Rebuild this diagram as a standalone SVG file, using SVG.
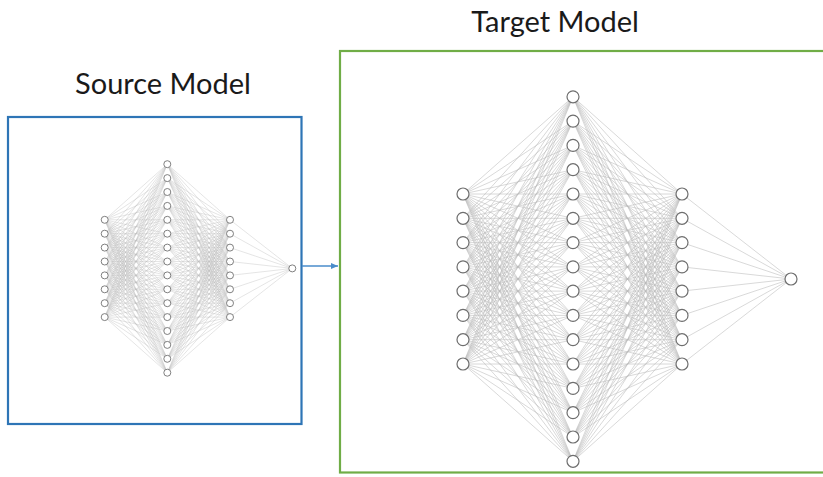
<svg xmlns="http://www.w3.org/2000/svg" width="823" height="477" viewBox="0 0 823 477">
<style>
.title{font-family:Lato,"Liberation Sans",sans-serif;font-size:29px;fill:#1a1a1a;text-anchor:middle}
.e{fill:none;stroke:#b9b9b9;stroke-width:0.55}
.es{fill:none;stroke:#bdbdbd;stroke-width:0.4}
.n{fill:#fff;stroke:#6e6e6e;stroke-width:1.2}
.ns{fill:#fff;stroke:#727272;stroke-width:0.9}
</style>
<defs>
<marker id="arr" viewBox="0 0 10 10" refX="10" refY="5" markerWidth="7" markerHeight="6" orient="auto" markerUnits="userSpaceOnUse" preserveAspectRatio="none">
<path d="M0 0L10 5L0 10z" fill="#4a8ccb"/>
</marker>
</defs>
<rect width="823" height="477" fill="#fff"/>
<g id="source-box">
<rect x="8" y="117" width="293.5" height="307" fill="none" stroke="#2e75b6" stroke-width="2.2"/>
<text class="title" x="163" y="94">Source Model</text>
</g>
<g id="target-box">
<rect x="340" y="51" width="500" height="421.5" fill="none" stroke="#70ad47" stroke-width="2.2"/>
<text class="title" x="555" y="32">Target Model</text>
</g>
<g id="connectors">
<!-- source network edges -->
<path class="es" d="M104.7 219.8L167.3 164.2L230 219.8M104.7 233.7L167.3 164.2L230 233.7M104.7 247.6L167.3 164.2L230 247.6M104.7 261.5L167.3 164.2L230 261.5M104.7 275.4L167.3 164.2L230 275.4M104.7 289.3L167.3 164.2L230 289.3M104.7 303.2L167.3 164.2L230 303.2M104.7 317.1L167.3 164.2L230 317.1"/>
<path class="es" d="M104.7 219.8L167.3 178.1L230 219.8M104.7 233.7L167.3 178.1L230 233.7M104.7 247.6L167.3 178.1L230 247.6M104.7 261.5L167.3 178.1L230 261.5M104.7 275.4L167.3 178.1L230 275.4M104.7 289.3L167.3 178.1L230 289.3M104.7 303.2L167.3 178.1L230 303.2M104.7 317.1L167.3 178.1L230 317.1"/>
<path class="es" d="M104.7 219.8L167.3 192L230 219.8M104.7 233.7L167.3 192L230 233.7M104.7 247.6L167.3 192L230 247.6M104.7 261.5L167.3 192L230 261.5M104.7 275.4L167.3 192L230 275.4M104.7 289.3L167.3 192L230 289.3M104.7 303.2L167.3 192L230 303.2M104.7 317.1L167.3 192L230 317.1"/>
<path class="es" d="M104.7 219.8L167.3 205.9L230 219.8M104.7 233.7L167.3 205.9L230 233.7M104.7 247.6L167.3 205.9L230 247.6M104.7 261.5L167.3 205.9L230 261.5M104.7 275.4L167.3 205.9L230 275.4M104.7 289.3L167.3 205.9L230 289.3M104.7 303.2L167.3 205.9L230 303.2M104.7 317.1L167.3 205.9L230 317.1"/>
<path class="es" d="M104.7 219.8L167.3 219.8L230 219.8M104.7 233.7L167.3 219.8L230 233.7M104.7 247.6L167.3 219.8L230 247.6M104.7 261.5L167.3 219.8L230 261.5M104.7 275.4L167.3 219.8L230 275.4M104.7 289.3L167.3 219.8L230 289.3M104.7 303.2L167.3 219.8L230 303.2M104.7 317.1L167.3 219.8L230 317.1"/>
<path class="es" d="M104.7 219.8L167.3 233.7L230 219.8M104.7 233.7L167.3 233.7L230 233.7M104.7 247.6L167.3 233.7L230 247.6M104.7 261.5L167.3 233.7L230 261.5M104.7 275.4L167.3 233.7L230 275.4M104.7 289.3L167.3 233.7L230 289.3M104.7 303.2L167.3 233.7L230 303.2M104.7 317.1L167.3 233.7L230 317.1"/>
<path class="es" d="M104.7 219.8L167.3 247.6L230 219.8M104.7 233.7L167.3 247.6L230 233.7M104.7 247.6L167.3 247.6L230 247.6M104.7 261.5L167.3 247.6L230 261.5M104.7 275.4L167.3 247.6L230 275.4M104.7 289.3L167.3 247.6L230 289.3M104.7 303.2L167.3 247.6L230 303.2M104.7 317.1L167.3 247.6L230 317.1"/>
<path class="es" d="M104.7 219.8L167.3 261.5L230 219.8M104.7 233.7L167.3 261.5L230 233.7M104.7 247.6L167.3 261.5L230 247.6M104.7 261.5L167.3 261.5L230 261.5M104.7 275.4L167.3 261.5L230 275.4M104.7 289.3L167.3 261.5L230 289.3M104.7 303.2L167.3 261.5L230 303.2M104.7 317.1L167.3 261.5L230 317.1"/>
<path class="es" d="M104.7 219.8L167.3 275.4L230 219.8M104.7 233.7L167.3 275.4L230 233.7M104.7 247.6L167.3 275.4L230 247.6M104.7 261.5L167.3 275.4L230 261.5M104.7 275.4L167.3 275.4L230 275.4M104.7 289.3L167.3 275.4L230 289.3M104.7 303.2L167.3 275.4L230 303.2M104.7 317.1L167.3 275.4L230 317.1"/>
<path class="es" d="M104.7 219.8L167.3 289.3L230 219.8M104.7 233.7L167.3 289.3L230 233.7M104.7 247.6L167.3 289.3L230 247.6M104.7 261.5L167.3 289.3L230 261.5M104.7 275.4L167.3 289.3L230 275.4M104.7 289.3L167.3 289.3L230 289.3M104.7 303.2L167.3 289.3L230 303.2M104.7 317.1L167.3 289.3L230 317.1"/>
<path class="es" d="M104.7 219.8L167.3 303.2L230 219.8M104.7 233.7L167.3 303.2L230 233.7M104.7 247.6L167.3 303.2L230 247.6M104.7 261.5L167.3 303.2L230 261.5M104.7 275.4L167.3 303.2L230 275.4M104.7 289.3L167.3 303.2L230 289.3M104.7 303.2L167.3 303.2L230 303.2M104.7 317.1L167.3 303.2L230 317.1"/>
<path class="es" d="M104.7 219.8L167.3 317.1L230 219.8M104.7 233.7L167.3 317.1L230 233.7M104.7 247.6L167.3 317.1L230 247.6M104.7 261.5L167.3 317.1L230 261.5M104.7 275.4L167.3 317.1L230 275.4M104.7 289.3L167.3 317.1L230 289.3M104.7 303.2L167.3 317.1L230 303.2M104.7 317.1L167.3 317.1L230 317.1"/>
<path class="es" d="M104.7 219.8L167.3 331L230 219.8M104.7 233.7L167.3 331L230 233.7M104.7 247.6L167.3 331L230 247.6M104.7 261.5L167.3 331L230 261.5M104.7 275.4L167.3 331L230 275.4M104.7 289.3L167.3 331L230 289.3M104.7 303.2L167.3 331L230 303.2M104.7 317.1L167.3 331L230 317.1"/>
<path class="es" d="M104.7 219.8L167.3 344.9L230 219.8M104.7 233.7L167.3 344.9L230 233.7M104.7 247.6L167.3 344.9L230 247.6M104.7 261.5L167.3 344.9L230 261.5M104.7 275.4L167.3 344.9L230 275.4M104.7 289.3L167.3 344.9L230 289.3M104.7 303.2L167.3 344.9L230 303.2M104.7 317.1L167.3 344.9L230 317.1"/>
<path class="es" d="M104.7 219.8L167.3 358.8L230 219.8M104.7 233.7L167.3 358.8L230 233.7M104.7 247.6L167.3 358.8L230 247.6M104.7 261.5L167.3 358.8L230 261.5M104.7 275.4L167.3 358.8L230 275.4M104.7 289.3L167.3 358.8L230 289.3M104.7 303.2L167.3 358.8L230 303.2M104.7 317.1L167.3 358.8L230 317.1"/>
<path class="es" d="M104.7 219.8L167.3 372.7L230 219.8M104.7 233.7L167.3 372.7L230 233.7M104.7 247.6L167.3 372.7L230 247.6M104.7 261.5L167.3 372.7L230 261.5M104.7 275.4L167.3 372.7L230 275.4M104.7 289.3L167.3 372.7L230 289.3M104.7 303.2L167.3 372.7L230 303.2M104.7 317.1L167.3 372.7L230 317.1"/>
<path class="es" d="M230 219.8L292.3 268.4M230 233.7L292.3 268.4M230 247.6L292.3 268.4M230 261.5L292.3 268.4M230 275.4L292.3 268.4M230 289.3L292.3 268.4M230 303.2L292.3 268.4M230 317.1L292.3 268.4"/>
<!-- target network edges -->
<path class="e" d="M463 194L573 96.8L682 194M463 218.3L573 96.8L682 218.3M463 242.6L573 96.8L682 242.6M463 266.9L573 96.8L682 266.9M463 291.1L573 96.8L682 291.1M463 315.4L573 96.8L682 315.4M463 339.7L573 96.8L682 339.7M463 364L573 96.8L682 364"/>
<path class="e" d="M463 194L573 121.1L682 194M463 218.3L573 121.1L682 218.3M463 242.6L573 121.1L682 242.6M463 266.9L573 121.1L682 266.9M463 291.1L573 121.1L682 291.1M463 315.4L573 121.1L682 315.4M463 339.7L573 121.1L682 339.7M463 364L573 121.1L682 364"/>
<path class="e" d="M463 194L573 145.4L682 194M463 218.3L573 145.4L682 218.3M463 242.6L573 145.4L682 242.6M463 266.9L573 145.4L682 266.9M463 291.1L573 145.4L682 291.1M463 315.4L573 145.4L682 315.4M463 339.7L573 145.4L682 339.7M463 364L573 145.4L682 364"/>
<path class="e" d="M463 194L573 169.7L682 194M463 218.3L573 169.7L682 218.3M463 242.6L573 169.7L682 242.6M463 266.9L573 169.7L682 266.9M463 291.1L573 169.7L682 291.1M463 315.4L573 169.7L682 315.4M463 339.7L573 169.7L682 339.7M463 364L573 169.7L682 364"/>
<path class="e" d="M463 194L573 194L682 194M463 218.3L573 194L682 218.3M463 242.6L573 194L682 242.6M463 266.9L573 194L682 266.9M463 291.1L573 194L682 291.1M463 315.4L573 194L682 315.4M463 339.7L573 194L682 339.7M463 364L573 194L682 364"/>
<path class="e" d="M463 194L573 218.3L682 194M463 218.3L573 218.3L682 218.3M463 242.6L573 218.3L682 242.6M463 266.9L573 218.3L682 266.9M463 291.1L573 218.3L682 291.1M463 315.4L573 218.3L682 315.4M463 339.7L573 218.3L682 339.7M463 364L573 218.3L682 364"/>
<path class="e" d="M463 194L573 242.6L682 194M463 218.3L573 242.6L682 218.3M463 242.6L573 242.6L682 242.6M463 266.9L573 242.6L682 266.9M463 291.1L573 242.6L682 291.1M463 315.4L573 242.6L682 315.4M463 339.7L573 242.6L682 339.7M463 364L573 242.6L682 364"/>
<path class="e" d="M463 194L573 266.9L682 194M463 218.3L573 266.9L682 218.3M463 242.6L573 266.9L682 242.6M463 266.9L573 266.9L682 266.9M463 291.1L573 266.9L682 291.1M463 315.4L573 266.9L682 315.4M463 339.7L573 266.9L682 339.7M463 364L573 266.9L682 364"/>
<path class="e" d="M463 194L573 291.1L682 194M463 218.3L573 291.1L682 218.3M463 242.6L573 291.1L682 242.6M463 266.9L573 291.1L682 266.9M463 291.1L573 291.1L682 291.1M463 315.4L573 291.1L682 315.4M463 339.7L573 291.1L682 339.7M463 364L573 291.1L682 364"/>
<path class="e" d="M463 194L573 315.4L682 194M463 218.3L573 315.4L682 218.3M463 242.6L573 315.4L682 242.6M463 266.9L573 315.4L682 266.9M463 291.1L573 315.4L682 291.1M463 315.4L573 315.4L682 315.4M463 339.7L573 315.4L682 339.7M463 364L573 315.4L682 364"/>
<path class="e" d="M463 194L573 339.7L682 194M463 218.3L573 339.7L682 218.3M463 242.6L573 339.7L682 242.6M463 266.9L573 339.7L682 266.9M463 291.1L573 339.7L682 291.1M463 315.4L573 339.7L682 315.4M463 339.7L573 339.7L682 339.7M463 364L573 339.7L682 364"/>
<path class="e" d="M463 194L573 364L682 194M463 218.3L573 364L682 218.3M463 242.6L573 364L682 242.6M463 266.9L573 364L682 266.9M463 291.1L573 364L682 291.1M463 315.4L573 364L682 315.4M463 339.7L573 364L682 339.7M463 364L573 364L682 364"/>
<path class="e" d="M463 194L573 388.4L682 194M463 218.3L573 388.4L682 218.3M463 242.6L573 388.4L682 242.6M463 266.9L573 388.4L682 266.9M463 291.1L573 388.4L682 291.1M463 315.4L573 388.4L682 315.4M463 339.7L573 388.4L682 339.7M463 364L573 388.4L682 364"/>
<path class="e" d="M463 194L573 412.7L682 194M463 218.3L573 412.7L682 218.3M463 242.6L573 412.7L682 242.6M463 266.9L573 412.7L682 266.9M463 291.1L573 412.7L682 291.1M463 315.4L573 412.7L682 315.4M463 339.7L573 412.7L682 339.7M463 364L573 412.7L682 364"/>
<path class="e" d="M463 194L573 437L682 194M463 218.3L573 437L682 218.3M463 242.6L573 437L682 242.6M463 266.9L573 437L682 266.9M463 291.1L573 437L682 291.1M463 315.4L573 437L682 315.4M463 339.7L573 437L682 339.7M463 364L573 437L682 364"/>
<path class="e" d="M463 194L573 461.3L682 194M463 218.3L573 461.3L682 218.3M463 242.6L573 461.3L682 242.6M463 266.9L573 461.3L682 266.9M463 291.1L573 461.3L682 291.1M463 315.4L573 461.3L682 315.4M463 339.7L573 461.3L682 339.7M463 364L573 461.3L682 364"/>
<path class="e" d="M682 194L791 279M682 218.3L791 279M682 242.6L791 279M682 266.9L791 279M682 291.1L791 279M682 315.4L791 279M682 339.7L791 279M682 364L791 279"/>
<!-- transfer arrow -->
<line x1="302" y1="266" x2="338" y2="266" stroke="#4a8ccb" stroke-width="1.5" marker-end="url(#arr)"/>
</g>
<g id="source-nodes">
<g id="s-in-0"><circle class="ns" cx="104.7" cy="219.8" r="3.5"/></g>
<g id="s-in-1"><circle class="ns" cx="104.7" cy="233.7" r="3.5"/></g>
<g id="s-in-2"><circle class="ns" cx="104.7" cy="247.6" r="3.5"/></g>
<g id="s-in-3"><circle class="ns" cx="104.7" cy="261.5" r="3.5"/></g>
<g id="s-in-4"><circle class="ns" cx="104.7" cy="275.4" r="3.5"/></g>
<g id="s-in-5"><circle class="ns" cx="104.7" cy="289.3" r="3.5"/></g>
<g id="s-in-6"><circle class="ns" cx="104.7" cy="303.2" r="3.5"/></g>
<g id="s-in-7"><circle class="ns" cx="104.7" cy="317.1" r="3.5"/></g>
<g id="s-h-0"><circle class="ns" cx="167.3" cy="164.2" r="3.5"/></g>
<g id="s-h-1"><circle class="ns" cx="167.3" cy="178.1" r="3.5"/></g>
<g id="s-h-2"><circle class="ns" cx="167.3" cy="192" r="3.5"/></g>
<g id="s-h-3"><circle class="ns" cx="167.3" cy="205.9" r="3.5"/></g>
<g id="s-h-4"><circle class="ns" cx="167.3" cy="219.8" r="3.5"/></g>
<g id="s-h-5"><circle class="ns" cx="167.3" cy="233.7" r="3.5"/></g>
<g id="s-h-6"><circle class="ns" cx="167.3" cy="247.6" r="3.5"/></g>
<g id="s-h-7"><circle class="ns" cx="167.3" cy="261.5" r="3.5"/></g>
<g id="s-h-8"><circle class="ns" cx="167.3" cy="275.4" r="3.5"/></g>
<g id="s-h-9"><circle class="ns" cx="167.3" cy="289.3" r="3.5"/></g>
<g id="s-h-10"><circle class="ns" cx="167.3" cy="303.2" r="3.5"/></g>
<g id="s-h-11"><circle class="ns" cx="167.3" cy="317.1" r="3.5"/></g>
<g id="s-h-12"><circle class="ns" cx="167.3" cy="331" r="3.5"/></g>
<g id="s-h-13"><circle class="ns" cx="167.3" cy="344.9" r="3.5"/></g>
<g id="s-h-14"><circle class="ns" cx="167.3" cy="358.8" r="3.5"/></g>
<g id="s-h-15"><circle class="ns" cx="167.3" cy="372.7" r="3.5"/></g>
<g id="s-h2-0"><circle class="ns" cx="230" cy="219.8" r="3.5"/></g>
<g id="s-h2-1"><circle class="ns" cx="230" cy="233.7" r="3.5"/></g>
<g id="s-h2-2"><circle class="ns" cx="230" cy="247.6" r="3.5"/></g>
<g id="s-h2-3"><circle class="ns" cx="230" cy="261.5" r="3.5"/></g>
<g id="s-h2-4"><circle class="ns" cx="230" cy="275.4" r="3.5"/></g>
<g id="s-h2-5"><circle class="ns" cx="230" cy="289.3" r="3.5"/></g>
<g id="s-h2-6"><circle class="ns" cx="230" cy="303.2" r="3.5"/></g>
<g id="s-h2-7"><circle class="ns" cx="230" cy="317.1" r="3.5"/></g>
<g id="s-out"><circle class="ns" cx="292.3" cy="268.4" r="3.5"/></g>
</g>
<g id="target-nodes">
<g id="t-in-0"><circle class="n" cx="463" cy="194" r="6"/></g>
<g id="t-in-1"><circle class="n" cx="463" cy="218.3" r="6"/></g>
<g id="t-in-2"><circle class="n" cx="463" cy="242.6" r="6"/></g>
<g id="t-in-3"><circle class="n" cx="463" cy="266.9" r="6"/></g>
<g id="t-in-4"><circle class="n" cx="463" cy="291.1" r="6"/></g>
<g id="t-in-5"><circle class="n" cx="463" cy="315.4" r="6"/></g>
<g id="t-in-6"><circle class="n" cx="463" cy="339.7" r="6"/></g>
<g id="t-in-7"><circle class="n" cx="463" cy="364" r="6"/></g>
<g id="t-h-0"><circle class="n" cx="573" cy="96.8" r="6"/></g>
<g id="t-h-1"><circle class="n" cx="573" cy="121.1" r="6"/></g>
<g id="t-h-2"><circle class="n" cx="573" cy="145.4" r="6"/></g>
<g id="t-h-3"><circle class="n" cx="573" cy="169.7" r="6"/></g>
<g id="t-h-4"><circle class="n" cx="573" cy="194" r="6"/></g>
<g id="t-h-5"><circle class="n" cx="573" cy="218.3" r="6"/></g>
<g id="t-h-6"><circle class="n" cx="573" cy="242.6" r="6"/></g>
<g id="t-h-7"><circle class="n" cx="573" cy="266.9" r="6"/></g>
<g id="t-h-8"><circle class="n" cx="573" cy="291.1" r="6"/></g>
<g id="t-h-9"><circle class="n" cx="573" cy="315.4" r="6"/></g>
<g id="t-h-10"><circle class="n" cx="573" cy="339.7" r="6"/></g>
<g id="t-h-11"><circle class="n" cx="573" cy="364" r="6"/></g>
<g id="t-h-12"><circle class="n" cx="573" cy="388.4" r="6"/></g>
<g id="t-h-13"><circle class="n" cx="573" cy="412.7" r="6"/></g>
<g id="t-h-14"><circle class="n" cx="573" cy="437" r="6"/></g>
<g id="t-h-15"><circle class="n" cx="573" cy="461.3" r="6"/></g>
<g id="t-h2-0"><circle class="n" cx="682" cy="194" r="6"/></g>
<g id="t-h2-1"><circle class="n" cx="682" cy="218.3" r="6"/></g>
<g id="t-h2-2"><circle class="n" cx="682" cy="242.6" r="6"/></g>
<g id="t-h2-3"><circle class="n" cx="682" cy="266.9" r="6"/></g>
<g id="t-h2-4"><circle class="n" cx="682" cy="291.1" r="6"/></g>
<g id="t-h2-5"><circle class="n" cx="682" cy="315.4" r="6"/></g>
<g id="t-h2-6"><circle class="n" cx="682" cy="339.7" r="6"/></g>
<g id="t-h2-7"><circle class="n" cx="682" cy="364" r="6"/></g>
<g id="t-out"><circle class="n" cx="791" cy="279" r="6"/></g>
</g>
</svg>
